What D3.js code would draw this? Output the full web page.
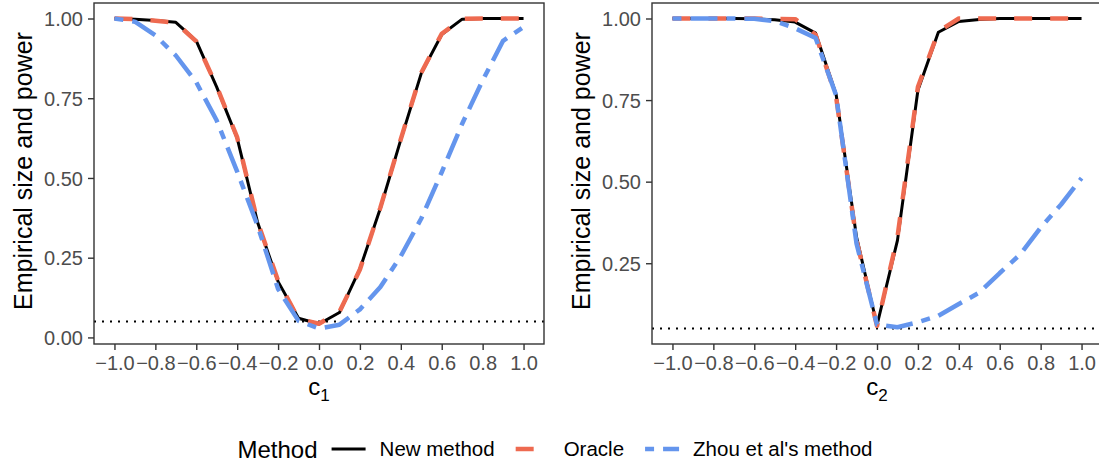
<!DOCTYPE html>
<html>
<head>
<meta charset="utf-8">
<script src="https://cdn.jsdelivr.net/npm/d3@7"></script>
<style>
  body { margin: 0; background: #fff; }
  svg { display: block; font-family: "Liberation Sans", Arial, sans-serif; }
</style>
</head>
<body>
<svg id="chart" width="1099" height="467"></svg>
<script>

// grid of c values used in both panels
var cValues = [-1.0, -0.9, -0.8, -0.7, -0.6, -0.5, -0.4, -0.3, -0.2, -0.1, 0.0,
               0.1, 0.2, 0.3, 0.4, 0.5, 0.6, 0.7, 0.8, 0.9, 1.0];

var methods = ["New method", "Oracle", "Zhou et al's method"];

// panel 1 : varying c1
var newMethodC1 = [1.000, 0.998, 0.994, 0.988, 0.930, 0.785, 0.625, 0.360, 0.175, 0.060, 0.042,
                   0.078, 0.215, 0.405, 0.620, 0.828, 0.950, 0.998, 1.000, 1.000, 1.000];
var oracleC1    = [1.000, 0.998, 0.993, 0.987, 0.928, 0.787, 0.627, 0.362, 0.178, 0.058, 0.043,
                   0.080, 0.213, 0.407, 0.622, 0.830, 0.952, 0.999, 1.000, 1.000, 1.000];
var zhouC1      = [1.000, 0.990, 0.947, 0.884, 0.800, 0.680, 0.520, 0.350, 0.152, 0.052, 0.028,
                   0.040, 0.088, 0.158, 0.255, 0.373, 0.518, 0.670, 0.806, 0.930, 0.973];

// panel 2 : varying c2
var newMethodC2 = [1.000, 1.000, 1.000, 1.000, 0.999, 0.996, 0.989, 0.955, 0.768, 0.330, 0.060,
                   0.320, 0.780, 0.958, 0.991, 0.997, 1.000, 1.000, 1.000, 1.000, 1.000];
var oracleC2    = [1.000, 1.000, 1.000, 1.000, 1.000, 0.999, 0.998, 0.950, 0.760, 0.320, 0.058,
                   0.330, 0.790, 0.960, 1.000, 1.000, 1.000, 1.000, 1.000, 1.000, 1.000];
var zhouC2      = [1.000, 1.000, 1.000, 1.000, 0.999, 0.992, 0.970, 0.940, 0.765, 0.310, 0.062,
                   0.054, 0.069, 0.089, 0.125, 0.160, 0.220, 0.277, 0.359, 0.430, 0.511];

var nominalLevel = 0.05;

var xTicks = [-1.0, -0.8, -0.6, -0.4, -0.2, 0.0, 0.2, 0.4, 0.6, 0.8, 1.0];
var yTicks = [0.00, 0.25, 0.50, 0.75, 1.00];

var yTitle = "Empirical size and power";
var legendTitle = "Method";

// line styles, one per method
var styles = [
    { color: "#000000", width: 3,   dash: null },
    { color: "#EE6A50", width: 4.5, dash: "18,18" },
    { color: "#6495ED", width: 4.5, dash: "9,9,27,9" }
];

var svg = d3.select("#chart");

function stringWidth(string, size) {
    var text = svg.append("text")
        .attr("x", 0).attr("y", 0)
        .style("font-size", size + "px")
        .style("opacity", 0)
        .text(string);
    var length = text.node().getComputedTextLength();
    //nb make sure to remove the measured text item
    text.remove();
    return length;
}

var panelTop = 3, panelBottom = 344;

var panels = [
    { left: 94,  right: 544,  sub: "1", series: [newMethodC1, oracleC1, zhouC1] },
    { left: 652, right: 1102, sub: "2", series: [newMethodC2, oracleC2, zhouC2] }
];

panels.forEach(function(p) {

    var g = svg.append("g");

    var x = d3.scaleLinear().domain([-1.1, 1.1]).range([p.left, p.right]);

    // ggplot style: data range (incl. reference line) expanded 5% each side
    var ext = d3.extent(d3.merge(p.series).concat([nominalLevel]));
    var pad = (ext[1] - ext[0]) * 0.05;
    var y = d3.scaleLinear().domain([ext[0] - pad, ext[1] + pad]).range([panelBottom, panelTop]);

    g.append("line")
        .attr("x1", p.left).attr("x2", p.right)
        .attr("y1", y(nominalLevel)).attr("y2", y(nominalLevel))
        .attr("stroke", "#000")
        .attr("stroke-width", 2)
        .attr("stroke-dasharray", "2,6");

    var line = d3.line()
        .x(function(d, i) { return x(cValues[i]); })
        .y(function(d) { return y(d); });

    p.series.forEach(function(values, k) {
        g.append("path")
            .datum(values)
            .attr("d", line)
            .attr("fill", "none")
            .attr("stroke", styles[k].color)
            .attr("stroke-width", styles[k].width)
            .attr("stroke-dasharray", styles[k].dash)
            .attr("stroke-linejoin", "round")
            .attr("stroke-linecap", "butt");
    });

    g.append("rect")
        .attr("x", p.left).attr("y", panelTop)
        .attr("width", p.right - p.left).attr("height", panelBottom - panelTop)
        .attr("fill", "none")
        .attr("stroke", "#333")
        .attr("stroke-width", 1.4);

    var yDom = y.domain();
    var yAxis = g.append("g")
        .attr("transform", "translate(" + p.left + ",0)")
        .call(d3.axisLeft(y)
            .tickValues(yTicks.filter(function(v) { return v >= yDom[0] && v <= yDom[1]; }))
            .tickFormat(d3.format(".2f"))
            .tickSize(6).tickPadding(5));

    var xAxis = g.append("g")
        .attr("transform", "translate(0," + panelBottom + ")")
        .call(d3.axisBottom(x)
            .tickValues(xTicks)
            .tickFormat(d3.format(".1f"))
            .tickSize(6).tickPadding(4));

    [yAxis, xAxis].forEach(function(a) {
        a.select(".domain").remove();
        a.attr("font-family", null).attr("font-size", null);
        a.selectAll(".tick line").attr("stroke", "#333").attr("stroke-width", 1.4);
        a.selectAll(".tick text").attr("fill", "#4D4D4D").style("font-size", "20px");
    });
    yAxis.selectAll(".tick text").attr("dy", "0.36em");
    xAxis.selectAll(".tick text").attr("dy", "0.82em");

    g.append("text")
        .attr("transform", "translate(" + (p.left - 62) + "," + 171 + ") rotate(-90)")
        .attr("text-anchor", "middle")
        .style("font-size", "25px")
        .attr("fill", "#000")
        .text(yTitle);

    var xt = g.append("text")
        .attr("x", x(0)).attr("y", 395)
        .attr("text-anchor", "middle")
        .attr("fill", "#000");
    xt.append("tspan").style("font-size", "24px").text("c");
    xt.append("tspan").style("font-size", "17px").attr("dy", 6).text(p.sub);
});

// legend along the bottom
var legendY = 449;
var titleSize = 24, labelSize = 20.5, keyW = 34, gap = 14, itemGap = 21;

var titleW = stringWidth(legendTitle, titleSize);
var labelW = methods.map(function(m) { return stringWidth(m, labelSize); });
var total = titleW + gap + d3.sum(labelW) + methods.length * (keyW + gap) + (methods.length - 1) * itemGap;

var lx = 555 - total / 2;
var legend = svg.append("g");

legend.append("text")
    .attr("x", lx).attr("y", legendY)
    .attr("dy", "0.36em")
    .style("font-size", titleSize + "px")
    .attr("fill", "#000")
    .text(legendTitle);
lx += titleW + gap;

methods.forEach(function(m, k) {
    legend.append("line")
        .attr("x1", lx).attr("x2", lx + keyW)
        .attr("y1", legendY).attr("y2", legendY)
        .attr("stroke", styles[k].color)
        .attr("stroke-width", styles[k].width)
        .attr("stroke-dasharray", styles[k].dash);
    lx += keyW + gap;
    legend.append("text")
        .attr("x", lx).attr("y", legendY)
        .attr("dy", "0.36em")
        .style("font-size", labelSize + "px")
        .attr("fill", "#000")
        .text(m);
    lx += labelW[k] + itemGap;
});

</script>
</body>
</html>
